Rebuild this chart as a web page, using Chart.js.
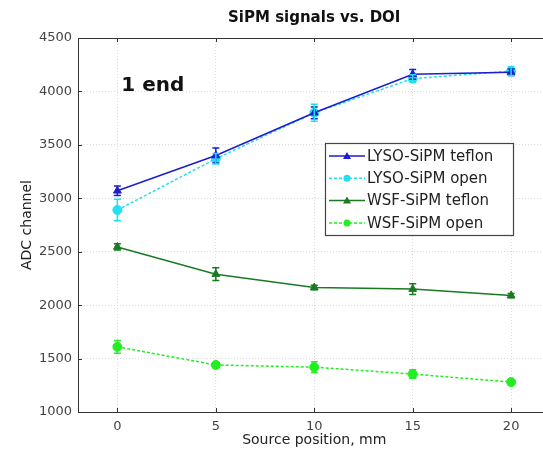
<!DOCTYPE html>
<html>
<head>
<meta charset="utf-8">
<script src="https://cdn.jsdelivr.net/npm/chart.js@4"></script>
<style>
  html, body { margin: 0; padding: 0; background: #fff; overflow: hidden; }
  #wrap { width: 543px; height: 449px; overflow: hidden; }
</style>
</head>
<body>
<div id="wrap"><canvas id="myChart" width="556" height="449"></canvas></div>
<script>
const positions = [0, 5, 10, 15, 20];
const xTicks = [0, 5, 10, 15, 20];
const yTicks = [1000, 1500, 2000, 2500, 3000, 3500, 4000, 4500];

const lysoTeflon = [3070, 3400, 3800, 4160, 4180];
const lysoTeflonErr = [45, 70, 55, 45, 30];
const lysoOpen = [2890, 3370, 3800, 4120, 4190];
const lysoOpenErr = [100, 50, 80, 35, 40];
const wsfTeflon = [2545, 2290, 2165, 2150, 2090];
const wsfTeflonErr = [30, 60, 20, 50, 20];
const wsfOpen = [1610, 1440, 1420, 1355, 1280];
const wsfOpenErr = [60, 20, 50, 40, 20];

const font = "'DejaVu Sans', 'Liberation Sans', Arial, sans-serif";

function pts(values) {
  return positions.map((x, i) => ({ x: x, y: values[i] }));
}

const series = [
  { label: "LYSO-SiPM teflon", values: lysoTeflon, err: lysoTeflonErr, color: "#1c1cd0", marker: "triangle", dash: [] },
  { label: "LYSO-SiPM open", values: lysoOpen, err: lysoOpenErr, color: "#22e0f0", marker: "circle", dash: [3, 2] },
  { label: "WSF-SiPM teflon", values: wsfTeflon, err: wsfTeflonErr, color: "#1a7a22", marker: "triangle", dash: [] },
  { label: "WSF-SiPM open", values: wsfOpen, err: wsfOpenErr, color: "#22ee22", marker: "circle", dash: [3, 2] },
];

const data = {
  datasets: series.map((s) => ({
    label: s.label,
    data: pts(s.values),
    borderColor: s.color,
    backgroundColor: s.color,
    borderWidth: 1.5,
    borderDash: s.dash,
    pointStyle: s.marker,
    pointRadius: 4.5,
    pointBorderWidth: 1,
    tension: 0,
  })),
};

// error bars, frame, tick marks, title, annotation and legend
const extras = {
  id: "extras",
  afterDatasetsDraw(chart) {
    const ctx = chart.ctx;
    const xs = chart.scales.x;
    const ys = chart.scales.y;
    ctx.save();
    series.forEach((s) => {
      ctx.strokeStyle = s.color;
      ctx.lineWidth = 1.5;
      s.values.forEach((v, i) => {
        const px = xs.getPixelForValue(positions[i]);
        const top = ys.getPixelForValue(v + s.err[i]);
        const bot = ys.getPixelForValue(v - s.err[i]);
        ctx.beginPath();
        ctx.moveTo(px, top); ctx.lineTo(px, bot);
        ctx.moveTo(px - 3.5, top); ctx.lineTo(px + 3.5, top);
        ctx.moveTo(px - 3.5, bot); ctx.lineTo(px + 3.5, bot);
        ctx.stroke();
      });
    });
    ctx.restore();
  },
  afterDraw(chart) {
    const ctx = chart.ctx;
    const { left, top, right, bottom } = chart.chartArea;
    const xs = chart.scales.x;
    const ys = chart.scales.y;
    ctx.save();
    // frame: right side is cropped off in the original
    ctx.strokeStyle = "#333";
    ctx.lineWidth = 1;
    ctx.beginPath();
    ctx.moveTo(right, top + 0.5); ctx.lineTo(left + 0.5, top + 0.5);
    ctx.lineTo(left + 0.5, bottom + 0.5); ctx.lineTo(right, bottom + 0.5);
    ctx.stroke();
    // inward ticks
    ctx.beginPath();
    xTicks.forEach((t) => {
      const px = Math.round(xs.getPixelForValue(t)) + 0.5;
      ctx.moveTo(px, bottom); ctx.lineTo(px, bottom - 4);
      ctx.moveTo(px, top); ctx.lineTo(px, top + 4);
    });
    yTicks.forEach((t) => {
      const py = Math.round(ys.getPixelForValue(t)) + 0.5;
      ctx.moveTo(left, py); ctx.lineTo(left + 4, py);
    });
    ctx.stroke();

    // title
    ctx.fillStyle = "#111";
    ctx.textAlign = "center";
    ctx.textBaseline = "middle";
    ctx.font = "bold 15px " + font;
    ctx.fillText("SiPM signals vs. DOI", (left + right) / 2, 18);

    // "1 end" label
    ctx.textAlign = "left";
    ctx.font = "bold 20px " + font;
    ctx.fillText("1 end", xs.getPixelForValue(0.2), ys.getPixelForValue(4050));

    // legend box
    const lx = 325, ly = 143, lw = 188, lh = 92;
    ctx.fillStyle = "#fff";
    ctx.fillRect(lx, ly, lw, lh);
    ctx.strokeStyle = "#444";
    ctx.lineWidth = 1.2;
    ctx.strokeRect(lx + 0.5, ly + 0.5, lw, lh);
    ctx.font = "15px " + font;
    series.forEach((s, i) => {
      const yy = ly + 13 + i * 22.3;
      ctx.strokeStyle = s.color;
      ctx.fillStyle = s.color;
      ctx.lineWidth = 1.5;
      ctx.setLineDash(s.dash);
      ctx.beginPath();
      ctx.moveTo(lx + 4, yy); ctx.lineTo(lx + 40, yy);
      ctx.stroke();
      ctx.setLineDash([]);
      const mx = lx + 22;
      ctx.beginPath();
      if (s.marker === "triangle") {
        ctx.moveTo(mx, yy - 4); ctx.lineTo(mx + 4, yy + 3); ctx.lineTo(mx - 4, yy + 3);
        ctx.closePath();
      } else {
        ctx.arc(mx, yy, 3.5, 0, Math.PI * 2);
      }
      ctx.fill();
      ctx.fillStyle = "#222";
      ctx.fillText(s.label, lx + 42, yy + 1);
    });
    ctx.restore();
  },
};

const config = {
  type: "line",
  data: data,
  options: {
    responsive: false,
    animation: false,
    layout: { padding: { left: 0, right: 0, top: 38, bottom: 0 } },
    plugins: {
      legend: { display: false },
      tooltip: { enabled: false },
    },
    scales: {
      x: {
        type: "linear",
        min: -2,
        max: 22,
        afterBuildTicks: (s) => { s.ticks = xTicks.map((v) => ({ value: v })); },
        afterFit: (s) => { s.height = 37; },
        grid: { color: "#dcdcdc", drawTicks: false },
        border: { display: false, dash: [1, 2] },
        ticks: { color: "#444", font: { family: font, size: 13 }, padding: 7, callback: (v) => String(v) },
        title: {
          display: true,
          text: "Source position, mm",
          color: "#222",
          font: { family: font, size: 14 },
          padding: { top: 0, bottom: 0 },
        },
      },
      y: {
        type: "linear",
        min: 1000,
        max: 4500,
        afterBuildTicks: (s) => { s.ticks = yTicks.map((v) => ({ value: v })); },
        afterFit: (s) => { s.width = 78; },
        grid: { color: "#dcdcdc", drawTicks: false },
        border: { display: false, dash: [1, 2] },
        ticks: { color: "#444", font: { family: font, size: 13 }, padding: 6, callback: (v) => String(v) },
        title: {
          display: true,
          text: "ADC channel",
          color: "#222",
          font: { family: font, size: 14 },
          padding: { top: 19, bottom: 0 },
        },
      },
    },
  },
  plugins: [extras],
};

const myChart = new Chart(document.getElementById("myChart"), config);
</script>
</body>
</html>
